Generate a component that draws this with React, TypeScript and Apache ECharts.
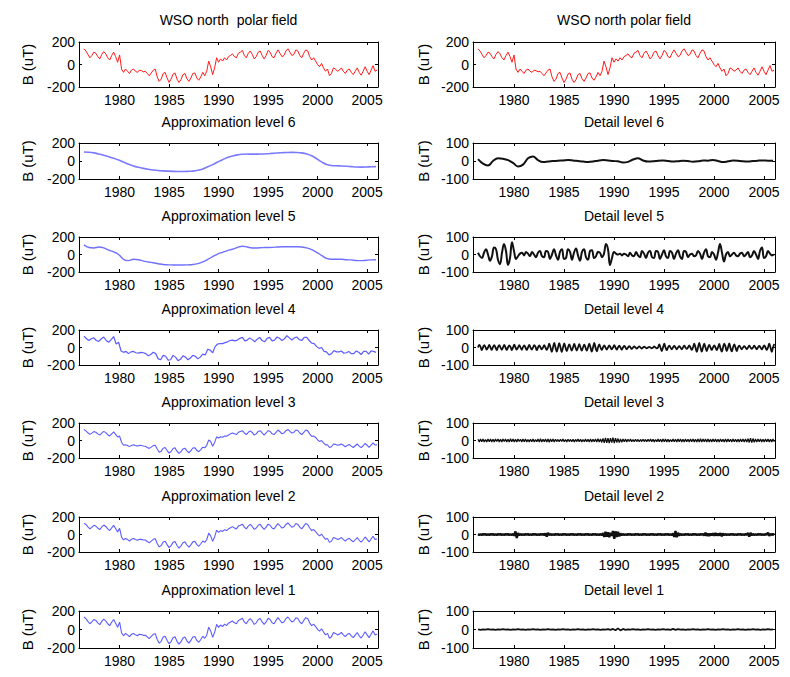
import React, { useEffect, useRef } from "react";
import * as echarts from "echarts";

// ---------- data ----------
const YEAR_TICKS = [1980, 1985, 1990, 1995, 2000, 2005];

// WSO north polar field, step 0.2 yr from 1976.4
const RAW_START = 1976.4;
const RAW_STEP = 0.2;
const rawField = [
  140, 120, 90, 60, 80,
  110, 100, 70, 50, 90,
  115, 95, 60, 40, 80,
  110, 70, 20, 85, -40,
  -70, -40, -60, -80, -50,
  -40, -60, -70, -50, -55,
  -65, -60, -80, -100, -75,
  -50, -40, -110, -150, -130,
  -80, -70, -120, -160, -130,
  -85, -75, -130, -160, -135,
  -90, -80, -125, -150, -120,
  -80, -75, -120, -140, -110,
  -70, -100, -60, 30, -20,
  -90, -30, 60, 20, 50,
  30, 60, 40, 70, 80,
  95, 70, 60, 100, 110,
  125, 80, 60, 100, 120,
  90, 50, 70, 110, 120,
  80, 50, 80, 125, 110,
  70, 60, 100, 130, 100,
  70, 80, 120, 140, 110,
  80, 90, 130, 120, 80,
  60, 100, 130, 120, 70,
  40, 60, 30, 0, -20,
  10, -30, -60, -40, -100,
  -80, -30, -40, -60, -50,
  -30, -60, -80, -50, -40,
  -70, -90, -60, -30, -70,
  -95, -60, -20, -60, -90,
  -50, -10, -60, -50,
];

// Approximation level 6, step 0.5 yr from 1976.4
const approx6 = [
  100, 97, 90, 78, 65, 48, 30, 10, -12, -35,
  -55, -70, -82, -92, -100, -106, -110, -113, -115, -116,
  -116, -115, -112, -103, -88, -65, -40, -12, 15, 38,
  55, 68, 75, 77, 76, 76, 78, 81, 85, 89,
  92, 95, 96, 95, 90, 78, 58, 25, -10, -38,
  -50, -53, -55, -58, -62, -66, -68, -67, -64, -62,
];

// Approximation level 5, step 0.5 yr from 1976.4
const approx5 = [
  110, 80, 75, 85, 75, 50, 30, 0, -55, -70,
  -55, -60, -75, -85, -95, -105, -115, -118, -120, -120,
  -120, -118, -115, -105, -85, -55, -25, 5, 25, 45,
  60, 80, 95, 85, 75, 75, 78, 80, 82, 85,
  88, 88, 88, 88, 85, 75, 55, 25, -10, -45,
  -55, -55, -55, -60, -62, -68, -70, -66, -62, -60,
];

// Approximation level 4, step 0.25 yr from 1976.4
const approx4 = [
  130, 100, 80, 100,
  110, 80, 70, 100,
  120, 80, 60, 90,
  125, 40, 60, -40,
  -55, -45, -70, -50,
  -45, -60, -65, -55,
  -60, -70, -95, -80,
  -55, -70, -130, -140,
  -90, -100, -145, -140,
  -90, -110, -150, -135,
  -95, -110, -140, -120,
  -90, -100, -130, -110,
  -75, -85, -20, -30,
  -60, 10, 40, 45,
  45, 55, 65, 80,
  85, 75, 85, 105,
  115, 75, 85, 110,
  90, 65, 95, 115,
  80, 65, 105, 115,
  75, 85, 120, 105,
  80, 100, 135, 110,
  85, 110, 120, 90,
  80, 115, 115, 80,
  50, 45, 10, -10,
  0, -45, -50, -85,
  -70, -35, -50, -50,
  -40, -65, -60, -45,
  -70, -70, -40, -55,
  -80, -45, -45, -75,
  -40, -45, -55,
];

// Approximation level 3, step 0.2 yr from 1976.4
const approx3 = [
  125, 110, 88, 70, 84,
  102, 94, 76, 62, 84,
  104, 90, 66, 52, 76,
  98, 70, 40, 50, -20,
  -55, -48, -58, -70, -56,
  -48, -57, -64, -56, -57,
  -62, -65, -80, -90, -76,
  -58, -55, -98, -135, -122,
  -88, -80, -115, -145, -126,
  -92, -84, -122, -148, -128,
  -96, -88, -118, -140, -116,
  -86, -82, -112, -128, -104,
  -76, -84, -55, 5, -12,
  -65, -22, 42, 28, 42,
  38, 52, 48, 62, 76,
  86, 76, 68, 94, 104,
  112, 86, 68, 94, 110,
  92, 62, 76, 104, 112,
  86, 62, 86, 114, 104,
  76, 68, 94, 120, 100,
  76, 86, 112, 126, 104,
  86, 92, 120, 114, 86,
  68, 94, 120, 110, 76,
  48, 52, 35, 8, -12,
  0, -28, -50, -48, -80,
  -72, -40, -44, -54, -50,
  -40, -54, -72, -56, -46,
  -64, -80, -60, -40, -64,
  -82, -60, -34, -54, -78,
  -54, -28, -52, -50,
];

// Approximation level 2, step 0.2 yr from 1976.4
const approx2 = [
  130, 115, 88, 65, 82,
  105, 96, 74, 56, 86,
  108, 92, 64, 46, 76,
  104, 68, 30, 70, -30,
  -62, -45, -58, -75, -54,
  -45, -58, -66, -54, -56,
  -62, -63, -80, -95, -76,
  -55, -48, -102, -142, -126,
  -85, -76, -116, -150, -128,
  -90, -80, -126, -155, -130,
  -94, -84, -120, -145, -118,
  -84, -78, -116, -134, -106,
  -74, -90, -60, 15, -15,
  -78, -28, 50, 25, 45,
  35, 55, 45, 65, 78,
  90, 74, 64, 96, 106,
  118, 84, 64, 96, 115,
  92, 58, 74, 106, 116,
  84, 58, 84, 118, 106,
  74, 64, 96, 125, 100,
  74, 84, 115, 132, 106,
  84, 92, 125, 116, 84,
  64, 96, 125, 115, 74,
  45, 56, 34, 5, -15,
  5, -28, -55, -45, -90,
  -76, -35, -42, -56, -50,
  -35, -56, -76, -54, -44,
  -66, -85, -60, -35, -66,
  -88, -60, -28, -56, -84,
  -52, -20, -56, -52,
];

// Approximation level 1, step 0.2 yr from 1976.4
const approx1 = [
  135, 118, 88, 62, 82,
  108, 98, 72, 52, 88,
  112, 93, 62, 42, 78,
  108, 68, 25, 80, -35,
  -68, -42, -58, -78, -52,
  -42, -58, -68, -52, -55,
  -63, -62, -80, -98, -75,
  -52, -45, -108, -148, -128,
  -82, -72, -118, -155, -130,
  -88, -78, -128, -158, -132,
  -92, -82, -122, -148, -118,
  -82, -76, -118, -138, -108,
  -72, -95, -62, 25, -15,
  -85, -30, 55, 22, 48,
  32, 58, 42, 68, 80,
  92, 72, 62, 98, 108,
  122, 82, 62, 98, 118,
  92, 55, 72, 108, 118,
  82, 55, 82, 122, 108,
  72, 62, 98, 128, 100,
  72, 82, 118, 135, 108,
  82, 92, 128, 118, 82,
  62, 98, 128, 118, 72,
  42, 58, 32, 2, -18,
  8, -28, -58, -42, -95,
  -78, -32, -42, -58, -50,
  -32, -58, -78, -52, -42,
  -68, -88, -60, -32, -68,
  -92, -60, -25, -58, -88,
  -52, -15, -58, -52,
];

// Detail level 6, step 0.5 yr from 1976.4
const detail6 = [
  10, -15, -25, 0, 15, 12, 5, -10, -30, -20,
  15, 25, 5, -5, -3, 0, 2, 3, 5, 3,
  0, -3, -5, -3, 2, 5, 3, 0, -2, -8,
  -5, 8, 15, 3, -3, -2, 2, 3, 0, -3,
  -1, 2, 0, -4, -2, 3, 2, 6, 0, -6,
  -2, 3, 2, -2, -3, 0, 2, 3, 2, 2,
];

// Detail level 5, step 0.2 yr from 1976.4
const detail5 = [
  10, -10, -20, 10, 30,
  0, -35, -10, 40, 30,
  -30, -55, 10, 60, 20,
  -60, -20, 70, 20, -25,
  -10, 5, 10, -5, 15,
  5, -10, 15, 0, -15,
  10, 20, -10, -15, 20,
  15, -25, 0, 30, -5,
  -30, 15, 30, -25, -20,
  30, 15, -30, 10, 35,
  -5, -35, 15, 30, -15,
  -30, 20, 25, -20, -10,
  15, 10, -15, 5, 60,
  30, -60, -20, 15, 5,
  0, 5, -5, 5, 0,
  -10, 10, -5, -10, 15,
  -5, -15, 20, 5, -20,
  10, 20, -15, -20, 20,
  15, -25, 0, 25, -10,
  -20, 20, 10, -25, 5,
  25, -10, -25, 20, 15,
  -15, 0, 5, -10, -5,
  20, 5, -25, 10, 30,
  -10, -15, 15, 0, -30,
  10, 60, 10, -40, 0,
  15, -10, 0, 10, -5,
  -10, 5, 10, -10, 0,
  15, -15, -5, 20, 0,
  -25, 20, 40, -20, -10,
  20, 5, -5, 0,
];

// Detail level 4, step 0.125 yr from 1976.4
const detail4 = [
  0, 15, 5, -15, 0, 14, 2, -12,
  0, 15, 0, -14, 3, 13, 0, -15,
  2, 14, 0, -13, 0, 15, 0, -14,
  0, 12, 3, -15, 0, 16, 0, -12,
  0, 14, 0, -13, 2, 12, 0, -14,
  0, 15, 0, -12, 0, 14, 3, -15,
  0, 12, 0, -10, 0, 13, 0, -14,
  0, 22, 0, -25, 0, 26, 0, -24,
  0, 25, 0, -26, 0, 24, 0, -20,
  0, 18, 0, -18, 0, 20, 0, -17,
  0, 19, 0, -18, 0, 17, 0, -18,
  0, 22, 0, -24, 0, 26, 0, -22,
  0, 18, 0, -14, 0, 12, 0, -12,
  0, 12, 0, -10, 0, 13, 0, -12,
  0, 10, 0, -12, 0, 9, 0, -10,
  0, 8, 0, -8, 0, 7, 0, -6,
  0, 6, 0, -6, 0, 5, 0, -5,
  0, 4, 0, -5, 0, 6, 0, -5,
  0, 18, 0, -20, 0, 22, 0, -15,
  0, 10, 0, -10, 0, 9, 0, -10,
  0, 8, 0, -10, 0, 10, 0, -8,
  0, 12, 0, -14, 0, 22, 0, -25,
  0, 26, 0, -24, 0, 22, 0, -20,
  0, 15, 0, -14, 0, 12, 0, -15,
  0, 20, -5, -24, 0, 22, 5, -20,
  0, 24, -3, -22, 0, 18, 0, -20,
  0, 10, 0, -10, 0, 8, 0, -9,
  0, 10, 0, -8, 0, 11, 0, -10,
  0, 9, 0, -10, 0, 12, 0, -14,
  0, 22, 0, -25, 0, 20,
];

// Detail level 3, step 0.125 yr from 1976.4
const detail3 = [
  7, -8, 9, -7, 8, -9, 6, -8,
  9, -7, 8, -8, 7, -9, 8, -6,
  8, -9, 7, -8, 9, -6, 8, -9,
  7, -8, 10, -7, 8, -9, 7, -8,
  9, -6, 7, -8, 8, -7, 9, -8,
  6, -8, 7, -7, 8, -9, 6, -7,
  8, -9, 10, -8, 7, -7, 8, -9,
  9, -10, 8, -7, 9, -8, 7, -6,
  6, -7, 7, -6, 8, -7, 6, -8,
  7, -6, 6, -7, 7, -8, 6, -6,
  8, -7, 7, -8, 6, -7, 8, -7,
  7, -8, 8, -9, 7, -7, 9, -8,
  10, -9, 8, -11, 12, -13, 15, -14,
  13, -15, 14, -12, 16, -15, 13, -11,
  11, -12, 9, -10, 8, -7, 9, -8,
  7, -6, 8, -7, 6, -7, 7, -6,
  6, -7, 6, -6, 7, -6, 6, -7,
  7, -6, 8, -7, 7, -8, 6, -7,
  8, -7, 7, -8, 9, -7, 8, -8,
  7, -8, 6, -7, 8, -7, 7, -8,
  8, -7, 9, -8, 7, -8, 8, -7,
  7, -8, 8, -7, 9, -8, 7, -9,
  9, -8, 10, -9, 8, -7, 9, -8,
  8, -9, 7, -8, 8, -7, 9, -8,
  7, -8, 8, -7, 7, -8, 8, -9,
  8, -7, 7, -8, 8, -7, 7, -8,
  7, -8, 8, -7, 9, -8, 8, -9,
  10, -11, 13, -12, 11, -10, 9, -8,
  8, -7, 8, -8, 7, -8, 9, -7,
  8, -9, 7, -8, 8, -7,
];

// Detail level 2, step 0.125 yr from 1976.4
const detail2 = [
  2, -2, 1, -2, 2, -1, 2, -2,
  1, -2, 2, -1, 2, -2, 1, -2,
  2, -1, 2, -2, 1, -2, 2, -1,
  2, -2, 1, -2, 2, -6, 18, -20,
  8, -4, 2, -2, 1, -2, 2, -1,
  2, -2, 1, -2, 2, -1, 2, -2,
  1, -2, 2, -1, 2, -2, 6, -12,
  10, -3, 2, -2, 1, -2, 2, -1,
  2, -2, 1, -2, 2, -1, 2, -2,
  1, -2, 2, -1, 2, -2, 1, -2,
  2, -1, 2, -2, 1, -2, 2, -1,
  2, -2, 1, -2, 2, -1, 2, -2,
  1, -2, 2, -3, 8, -14, 16, -12,
  12, -16, 10, -8, 20, -24, 18, -14,
  16, -10, 6, -4, 2, -2, 1, -2,
  2, -1, 2, -2, 1, -2, 2, -1,
  2, -2, 1, -2, 2, -1, 2, -2,
  1, -2, 2, -1, 2, -2, 1, -2,
  2, -1, 2, -2, 1, -2, 2, -1,
  2, -2, 1, -2, 6, -14, 20, -16,
  10, -6, 2, -2, 1, -2, 2, -1,
  2, -2, 1, -2, 2, -1, 2, -2,
  1, -2, 2, -1, 2, -6, 10, -8,
  6, -8, 5, -4, 6, -7, 8, -6,
  4, -6, 8, -10, 6, -4, 2, -2,
  1, -2, 2, -1, 2, -2, 1, -2,
  2, -1, 2, -2, 1, -2, 2, -1,
  8, -12, 10, -4, 2, -2, 1, -2,
  2, -1, 2, -2, 1, -2, 2, -1,
  10, -8, 4, -2, 2, -2,
];

// Detail level 1, step 0.25 yr from 1976.4
const detail1 = [
  1, -2, 1, -1, 2, -1, 1, -2, 1, -1, 2, -1,
  1, -2, 1, -1, 2, -1, 1, -2, 1, -1, 2, -1,
  1, -2, 1, -1, 2, -1, 1, -2, 1, -1, 2, -1,
  1, -2, 1, -1, 2, -1, 1, -2, 1, -1, 2, -1,
  1, -2, 1, -1, 2, -2, 3, -4, 6, -5, 3, -2,
  1, -1, 2, -1, 1, -2, 1, -1, 2, -1, 1, -2,
  1, -1, 2, -1, 1, -2, 3, -2, 2, -1, 1, -2,
  1, -1, 2, -1, 1, -2, 1, -1, 2, -1, 1, -2,
  1, -1, 2, -1, 1, -2, 1, -1, 2, -1, 1, -2,
  1, -1, 2, -1, 1, -2, 1, -1, 2, -1, 1,
];

const LEFT_TITLES = [
  "WSO north  polar field",
  "Approximation level 6",
  "Approximation level 5",
  "Approximation level 4",
  "Approximation level 3",
  "Approximation level 2",
  "Approximation level 1",
];
const RIGHT_TITLES = [
  "WSO north polar field",
  "Detail level 6",
  "Detail level 5",
  "Detail level 4",
  "Detail level 3",
  "Detail level 2",
  "Detail level 1",
];
const Y_NAME = "B (uT)";

// ---------- layout / style ----------
const ROW_TOPS = [42, 143, 237, 330, 423, 517, 611];
const ROW_HEIGHTS = [45, 36, 35, 35, 35, 35, 37];
const COLS = [
  { left: 79, width: 299, nameX: 27 },
  { left: 473, width: 302, nameX: 423 },
];
const X_MIN = 1975.9;
const X_MAX = 2006.1;
const FONT = "Liberation Sans, Arial, Helvetica, sans-serif";
const RED = "#ff1a1a";
const BLUE = "#5c5cff";
const BLACK = "#111111";

type Panel = {
  col: number;
  row: number;
  values: number[];
  start: number;
  step: number;
  color: string;
  width: number;
  smooth: boolean;
  range: number;
};

const PANELS: Panel[] = [
  { col: 0, row: 0, values: rawField, start: RAW_START, step: RAW_STEP, color: RED, width: 1, smooth: false, range: 200 },
  { col: 0, row: 1, values: approx6, start: 1976.4, step: 0.5, color: "#7a7aff", width: 1.6, smooth: true, range: 200 },
  { col: 0, row: 2, values: approx5, start: 1976.4, step: 0.5, color: "#7070ff", width: 1.4, smooth: true, range: 200 },
  { col: 0, row: 3, values: approx4, start: 1976.4, step: 0.25, color: BLUE, width: 1.2, smooth: false, range: 200 },
  { col: 0, row: 4, values: approx3, start: 1976.4, step: 0.2, color: BLUE, width: 1.1, smooth: false, range: 200 },
  { col: 0, row: 5, values: approx2, start: 1976.4, step: 0.2, color: BLUE, width: 1.1, smooth: false, range: 200 },
  { col: 0, row: 6, values: approx1, start: 1976.4, step: 0.2, color: BLUE, width: 1.1, smooth: false, range: 200 },
  { col: 1, row: 0, values: rawField, start: RAW_START, step: RAW_STEP, color: RED, width: 1, smooth: false, range: 200 },
  { col: 1, row: 1, values: detail6, start: 1976.4, step: 0.5, color: BLACK, width: 2, smooth: true, range: 100 },
  { col: 1, row: 2, values: detail5, start: 1976.4, step: 0.2, color: BLACK, width: 2, smooth: true, range: 100 },
  { col: 1, row: 3, values: detail4, start: 1976.4, step: 0.125, color: BLACK, width: 1.8, smooth: true, range: 100 },
  { col: 1, row: 4, values: detail3, start: 1976.4, step: 0.125, color: BLACK, width: 1.3, smooth: false, range: 100 },
  { col: 1, row: 5, values: detail2, start: 1976.4, step: 0.125, color: BLACK, width: 2.4, smooth: false, range: 100 },
  { col: 1, row: 6, values: detail1, start: 1976.4, step: 0.25, color: BLACK, width: 1.8, smooth: false, range: 100 },
];

function buildOption() {
  const grid: any[] = [];
  const xAxis: any[] = [];
  const yAxis: any[] = [];
  const series: any[] = [];
  const graphic: any[] = [];

  PANELS.forEach((p, i) => {
    const c = COLS[p.col];
    const top = ROW_TOPS[p.row];
    const h = ROW_HEIGHTS[p.row];
    grid.push({ left: c.left, top, width: c.width, height: h, containLabel: false });

    const lineStyle = { color: "#000", width: 1 };
    const common = {
      type: "value",
      gridIndex: i,
      min: X_MIN,
      max: X_MAX,
      splitLine: { show: false },
      axisLine: { show: true, onZero: false, lineStyle },
    };
    xAxis.push({
      ...common,
      position: "bottom",
      axisTick: { show: true, inside: true, length: 3, customValues: YEAR_TICKS, lineStyle },
      axisLabel: {
        show: true,
        customValues: YEAR_TICKS,
        formatter: (v: number) => String(Math.round(v)),
        fontSize: 14,
        fontFamily: FONT,
        color: "#000",
        margin: 6,
      },
    });
    xAxis.push({
      ...common,
      position: "top",
      axisTick: { show: true, inside: true, length: 3, customValues: YEAR_TICKS, lineStyle },
      axisLabel: { show: false },
    });

    const ycommon = {
      type: "value",
      gridIndex: i,
      min: -p.range,
      max: p.range,
      interval: p.range,
      splitLine: { show: false },
      axisLine: { show: true, onZero: false, lineStyle },
      axisTick: { show: true, inside: true, length: 3, lineStyle },
    };
    yAxis.push({
      ...ycommon,
      position: "left",
      axisLabel: {
        show: true,
        formatter: (v: number) => String(v),
        fontSize: 14,
        fontFamily: FONT,
        color: "#000",
        margin: 4,
      },
    });
    yAxis.push({ ...ycommon, position: "right", axisLabel: { show: false } });

    series.push({
      type: "line",
      xAxisIndex: 2 * i,
      yAxisIndex: 2 * i,
      data: p.values.map((v, k) => [p.start + k * p.step, v]),
      showSymbol: false,
      symbol: "none",
      smooth: p.smooth ? 0.4 : false,
      clip: true,
      lineStyle: { color: p.color, width: p.width },
      silent: true,
    });

    const titles = p.col === 0 ? LEFT_TITLES : RIGHT_TITLES;
    graphic.push({
      type: "text",
      x: c.left + c.width / 2,
      y: p.row === 0 ? 20 : top - 21,
      style: {
        text: titles[p.row],
        textAlign: "center",
        textVerticalAlign: "middle",
        font: `14px ${FONT}`,
        fill: "#000",
      },
    });
    graphic.push({
      type: "text",
      x: c.nameX,
      y: top + h / 2,
      rotation: Math.PI / 2,
      style: {
        text: Y_NAME,
        textAlign: "center",
        textVerticalAlign: "middle",
        font: `15px ${FONT}`,
        fill: "#000",
      },
    });
  });

  return {
    animation: false,
    backgroundColor: "#ffffff",
    grid,
    xAxis,
    yAxis,
    series,
    graphic,
  };
}

export default function App() {
  const ref = useRef<HTMLDivElement>(null);
  useEffect(() => {
    document.body.style.margin = "0";
    if (!ref.current) return;
    const chart = echarts.init(ref.current, null, { renderer: "svg" });
    chart.setOption(buildOption() as any);
    return () => chart.dispose();
  }, []);
  return <div ref={ref} style={{ width: 790, height: 677 }} />;
}
